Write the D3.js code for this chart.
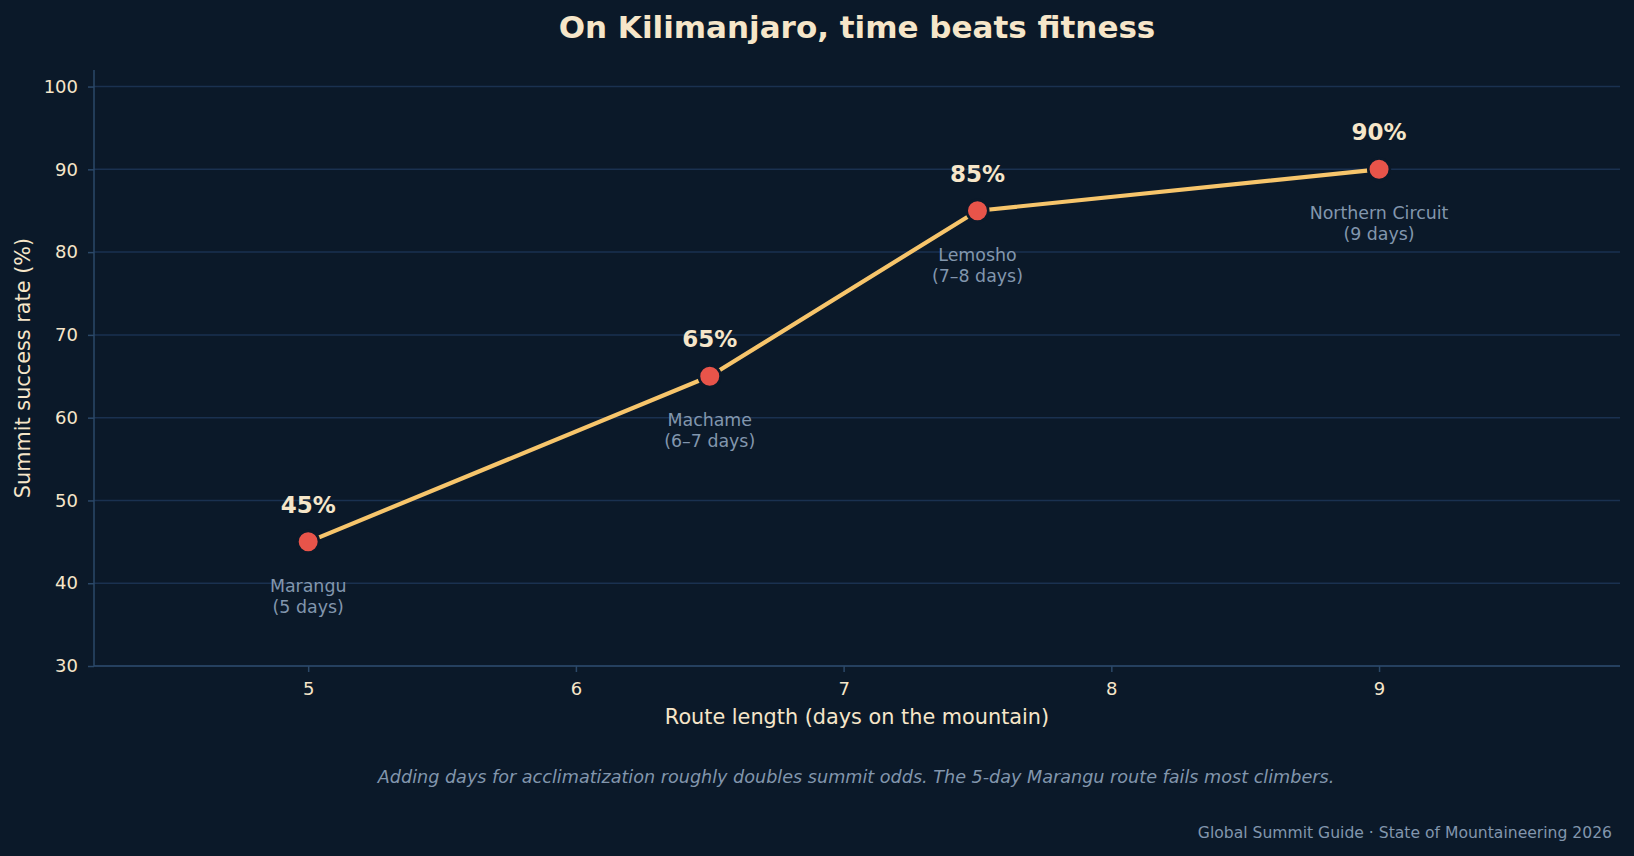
<!DOCTYPE html>
<html>
<head>
<meta charset="utf-8">
<script src="https://cdn.jsdelivr.net/npm/d3@7"></script>
<style>
  body { margin: 0; background: #0b1929; }
  svg { display: block; font-family: "DejaVu Sans", sans-serif; }
</style>
</head>
<body>
<svg id="chart"></svg>
<script>
// data
const days = [5, 6.5, 7.5, 9];
const rates = [45, 65, 85, 90];
const routes = ['Marangu', 'Machame', 'Lemosho', 'Northern Circuit'];
const durations = ['(5 days)', '(6\u20137 days)', '(7\u20138 days)', '(9 days)'];
const xTicks = [5, 6, 7, 8, 9];
const yTicks = [30, 40, 50, 60, 70, 80, 90, 100];

const w = 1634, h = 856;
const margins = {top: 70, right: 14, bottom: 190, left: 94};

const bg = '#0b1929', cream = '#f6e6c9', muted = '#8296ad';
const gridCol = '#1a3150', spineCol = '#2b4868';

const svg = d3.select('#chart')
  .attr('width', w)
  .attr('height', h);

svg.append('rect').attr('width', w).attr('height', h).attr('fill', bg);

const xScale = d3.scaleLinear()
  .domain([4.2, 9.9])
  .range([margins.left, w - margins.right]);

const yScale = d3.scaleLinear()
  .domain([30, 102])
  .range([h - margins.bottom, margins.top]);

// grid lines
svg.append('g')
  .selectAll('line')
  .data(yTicks)
  .join('line')
  .attr('x1', margins.left)
  .attr('x2', w - margins.right)
  .attr('y1', d => yScale(d))
  .attr('y2', d => yScale(d))
  .attr('stroke', gridCol)
  .attr('stroke-width', 1.5);

// axes
const xAxisGroup = svg.append('g')
  .attr('transform', `translate(0, ${h - margins.bottom})`)
  .call(d3.axisBottom(xScale).tickValues(xTicks).tickSize(6).tickPadding(10).tickFormat(d3.format('d')));

const yAxisGroup = svg.append('g')
  .attr('transform', `translate(${margins.left}, 0)`)
  .call(d3.axisLeft(yScale).tickValues(yTicks).tickSize(6).tickPadding(10));

[xAxisGroup, yAxisGroup].forEach(g => {
  g.select('.domain').attr('stroke', spineCol).attr('stroke-width', 1.5);
  g.selectAll('.tick line').attr('stroke', spineCol).attr('stroke-width', 1.5);
  g.selectAll('.tick text')
    .attr('fill', cream)
    .style('font-size', '18px')
    .style('font-family', '"DejaVu Sans", sans-serif');
});
// plain spines without outer ticks
yAxisGroup.select('.domain').attr('d', `M0,${yScale(102)}V${yScale(30)}`);
xAxisGroup.select('.domain').attr('d', `M${xScale(4.2)},0H${xScale(9.9)}`);

// axis labels
svg.append('text')
  .attr('x', (margins.left + w - margins.right) / 2)
  .attr('y', 724)
  .attr('text-anchor', 'middle')
  .attr('fill', cream)
  .style('font-size', '20.8px')
  .text('Route length (days on the mountain)');

svg.append('text')
  .attr('transform', `translate(30, ${(margins.top + h - margins.bottom) / 2}) rotate(-90)`)
  .attr('text-anchor', 'middle')
  .attr('fill', cream)
  .style('font-size', '20.8px')
  .text('Summit success rate (%)');

// line
const line = d3.line()
  .x((d, i) => xScale(days[i]))
  .y(d => yScale(d));

svg.append('path')
  .datum(rates)
  .attr('d', line)
  .attr('fill', 'none')
  .attr('stroke', '#f7c56b')
  .attr('stroke-width', 4.2)
  .attr('stroke-linejoin', 'round');

// markers
svg.append('g')
  .selectAll('circle')
  .data(rates)
  .join('circle')
  .attr('cx', (d, i) => xScale(days[i]))
  .attr('cy', d => yScale(d))
  .attr('r', 10.8)
  .attr('fill', '#e8544a')
  .attr('stroke', bg)
  .attr('stroke-width', 2.6);

// value labels
svg.append('g')
  .selectAll('text')
  .data(rates)
  .join('text')
  .attr('x', (d, i) => xScale(days[i]))
  .attr('y', d => yScale(d) - 29)
  .attr('text-anchor', 'middle')
  .attr('fill', cream)
  .style('font-size', '23px')
  .style('font-weight', 'bold')
  .text(d => d + '%');

// route labels, two lines
const routeLabels = svg.append('g')
  .selectAll('text')
  .data(rates)
  .join('text')
  .attr('text-anchor', 'middle')
  .attr('fill', muted)
  .style('font-size', '17.4px');

routeLabels.append('tspan')
  .attr('x', (d, i) => xScale(days[i]))
  .attr('y', d => yScale(d) + 50)
  .text((d, i) => routes[i]);

routeLabels.append('tspan')
  .attr('x', (d, i) => xScale(days[i]))
  .attr('y', d => yScale(d) + 71)
  .text((d, i) => durations[i]);

// title
svg.append('text')
  .attr('x', (margins.left + w - margins.right) / 2)
  .attr('y', 38)
  .attr('text-anchor', 'middle')
  .attr('fill', cream)
  .style('font-size', '31px')
  .style('font-weight', 'bold')
  .text('On Kilimanjaro, time beats fitness');

// caption
svg.append('text')
  .attr('x', 856)
  .attr('y', 783)
  .attr('text-anchor', 'middle')
  .attr('fill', muted)
  .style('font-size', '17.6px')
  .style('font-style', 'italic')
  .text('Adding days for acclimatization roughly doubles summit odds. The 5-day Marangu route fails most climbers.');

// source
svg.append('text')
  .attr('x', 1612)
  .attr('y', 838)
  .attr('text-anchor', 'end')
  .attr('fill', muted)
  .style('font-size', '15.6px')
  .text('Global Summit Guide \u00b7 State of Mountaineering 2026');
</script>
</body>
</html>
